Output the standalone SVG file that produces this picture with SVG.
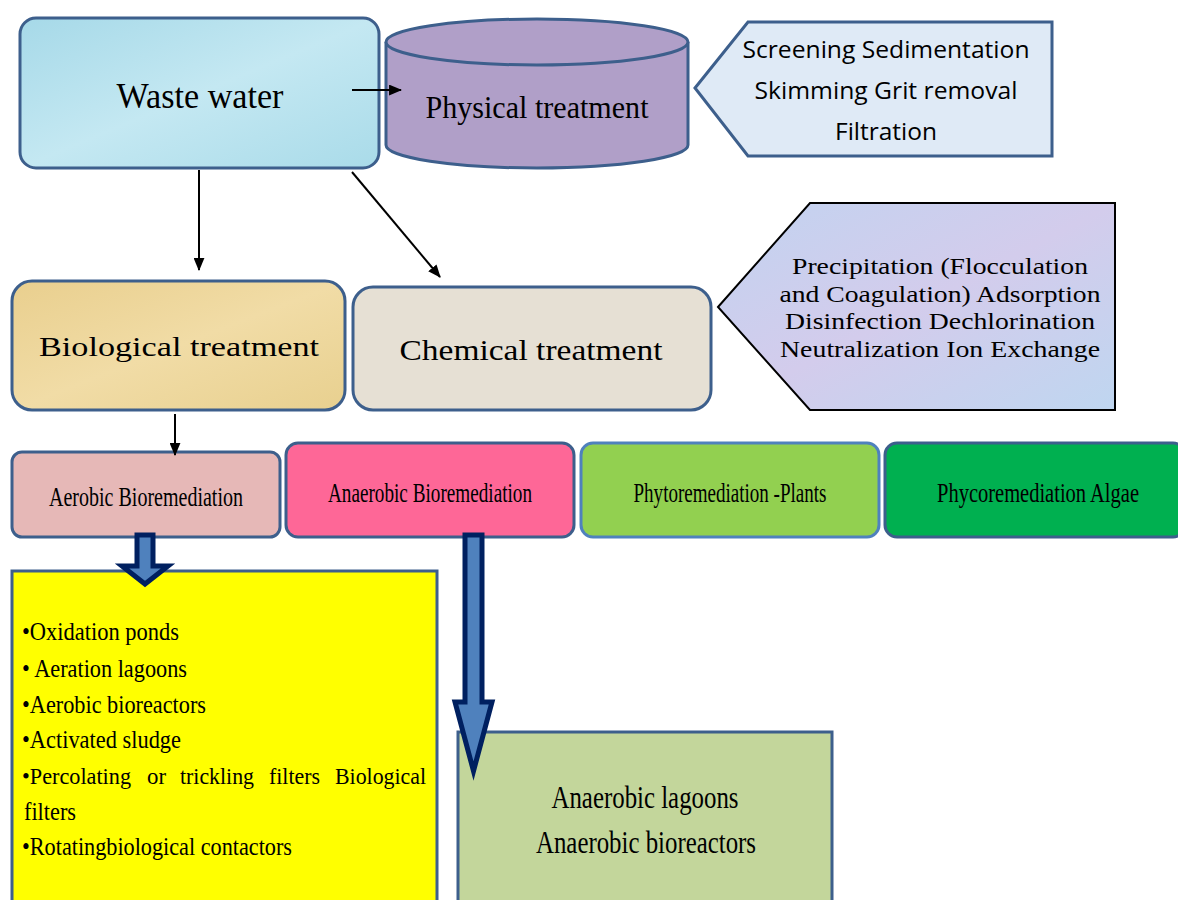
<svg xmlns="http://www.w3.org/2000/svg" width="1178" height="900" viewBox="0 0 1178 900">
<style>
.box{stroke:#3d5f8c;stroke-width:3}
.serif{font-family:"Liberation Serif","Times New Roman",serif;fill:#000}
.sans{font-family:"Open Sans","Noto Sans","Liberation Sans",sans-serif;fill:#000}
.conn{stroke:#000;stroke-width:2;fill:none;marker-end:url(#ah)}
.blk{fill:#4f81bd;stroke:#002060;stroke-width:5;stroke-linejoin:miter}
</style>
<defs>
<marker id="ah" viewBox="0 0 12 10" refX="11" refY="5" markerWidth="13" markerHeight="11" markerUnits="userSpaceOnUse" orient="auto">
<path d="M0,0 L12,5 L0,10 z" fill="#000"/>
</marker>
<linearGradient id="water" x1="0" y1="0" x2="1" y2="1">
<stop offset="0" stop-color="#a6d9e8"/><stop offset="0.5" stop-color="#c4e8f2"/><stop offset="1" stop-color="#a9dbe9"/>
</linearGradient>
<linearGradient id="tan" x1="0" y1="0" x2="1" y2="1">
<stop offset="0" stop-color="#e9cf8e"/><stop offset="0.5" stop-color="#f1dca6"/><stop offset="1" stop-color="#e8d08f"/>
</linearGradient>
<linearGradient id="lav" x1="0" y1="0" x2="1" y2="1">
<stop offset="0" stop-color="#c2d3f0"/><stop offset="0.5" stop-color="#d3ccec"/><stop offset="1" stop-color="#bfd6f0"/>
</linearGradient>
</defs>

<g id="waste-water">
<rect class="box" x="20" y="18" width="359" height="150" rx="16" fill="url(#water)"/>
<text class="serif" x="200" y="108" font-size="35" text-anchor="middle" textLength="167" lengthAdjust="spacingAndGlyphs">Waste water</text>
</g>

<g id="physical-treatment">
<path class="box" d="M386,42 L386,145 A151,23 0 0 0 688,145 L688,42" fill="#b09fc8"/>
<ellipse class="box" cx="537" cy="42" rx="151" ry="23" fill="#b09fc8"/>
<text class="serif" x="537" y="118" font-size="32" text-anchor="middle" textLength="223" lengthAdjust="spacingAndGlyphs">Physical treatment</text>
</g>

<g id="physical-methods">
<path class="box" d="M695,88 L748,22 L1052,22 L1052,156 L748,156 Z" fill="#dfeaf6"/>
<text class="sans" x="886" y="58" font-size="24" text-anchor="middle" textLength="287" lengthAdjust="spacingAndGlyphs">Screening Sedimentation</text>
<text class="sans" x="886" y="99" font-size="24" text-anchor="middle" textLength="263" lengthAdjust="spacingAndGlyphs">Skimming Grit removal</text>
<text class="sans" x="886" y="140" font-size="24" text-anchor="middle" textLength="102" lengthAdjust="spacingAndGlyphs">Filtration</text>
</g>

<g id="biological-treatment">
<rect class="box" x="12" y="281" width="333" height="129" rx="20" fill="url(#tan)"/>
<text class="serif" x="179" y="356" font-size="28" text-anchor="middle" textLength="280" lengthAdjust="spacingAndGlyphs">Biological treatment</text>
</g>

<g id="chemical-treatment">
<rect class="box" x="353" y="287" width="358" height="123" rx="20" fill="#e6e0d4"/>
<text class="serif" x="531" y="360" font-size="30" text-anchor="middle" textLength="263" lengthAdjust="spacingAndGlyphs">Chemical treatment</text>
</g>

<g id="chemical-methods">
<path d="M718,307 L810,203 L1115,203 L1115,410 L810,410 Z" fill="url(#lav)" stroke="#000" stroke-width="2"/>
<text class="serif" x="940" y="274" font-size="23" text-anchor="middle" textLength="296" lengthAdjust="spacingAndGlyphs">Precipitation (Flocculation</text>
<text class="serif" x="940" y="302" font-size="23" text-anchor="middle" textLength="321" lengthAdjust="spacingAndGlyphs">and Coagulation) Adsorption</text>
<text class="serif" x="940" y="329" font-size="23" text-anchor="middle" textLength="310" lengthAdjust="spacingAndGlyphs">Disinfection Dechlorination</text>
<text class="serif" x="940" y="357" font-size="23" text-anchor="middle" textLength="320" lengthAdjust="spacingAndGlyphs">Neutralization Ion Exchange</text>
</g>

<g id="aerobic">
<rect class="box" x="12" y="452" width="268" height="85" rx="10" fill="#e6b8b7"/>
<text class="serif" x="146" y="506" font-size="27" text-anchor="middle" textLength="194" lengthAdjust="spacingAndGlyphs">Aerobic Bioremediation</text>
</g>

<g id="anaerobic">
<rect class="box" x="286" y="443" width="288" height="94" rx="12" fill="#fe6797"/>
<text class="serif" x="430" y="502" font-size="27" text-anchor="middle" textLength="204" lengthAdjust="spacingAndGlyphs" fill="#1a1a3a">Anaerobic Bioremediation</text>
</g>

<g id="phytoremediation">
<rect x="581" y="443" width="298" height="94" rx="12" fill="#92d050" stroke="#4f81bd" stroke-width="3"/>
<text class="serif" x="730" y="502" font-size="27" text-anchor="middle" textLength="193" lengthAdjust="spacingAndGlyphs">Phytoremediation -Plants</text>
</g>

<g id="phycoremediation">
<rect class="box" x="885" y="443" width="300" height="94" rx="12" fill="#00b050"/>
<text class="serif" x="1038" y="502" font-size="27" text-anchor="middle" textLength="202" lengthAdjust="spacingAndGlyphs">Phycoremediation Algae</text>
</g>

<g id="aerobic-methods">
<rect class="box" x="12" y="571" width="425" height="340" fill="#ffff00"/>
<text class="serif" font-size="26" x="22" y="640" textLength="157" lengthAdjust="spacingAndGlyphs">•Oxidation ponds</text>
<text class="serif" font-size="26" x="22" y="677" textLength="165" lengthAdjust="spacingAndGlyphs">• Aeration lagoons</text>
<text class="serif" font-size="26" x="22" y="713" textLength="184" lengthAdjust="spacingAndGlyphs">•Aerobic bioreactors</text>
<text class="serif" font-size="26" x="22" y="748" textLength="159" lengthAdjust="spacingAndGlyphs">•Activated sludge</text>
<text class="serif" font-size="24" y="784"><tspan x="22" textLength="109" lengthAdjust="spacingAndGlyphs">•Percolating</tspan><tspan x="147" textLength="19" lengthAdjust="spacingAndGlyphs">or</tspan><tspan x="180" textLength="74" lengthAdjust="spacingAndGlyphs">trickling</tspan><tspan x="269" textLength="51" lengthAdjust="spacingAndGlyphs">filters</tspan><tspan x="335" textLength="91" lengthAdjust="spacingAndGlyphs">Biological</tspan></text>
<text class="serif" font-size="26" x="24" y="820" textLength="52" lengthAdjust="spacingAndGlyphs">filters</text>
<text class="serif" font-size="26" x="22" y="855" textLength="270" lengthAdjust="spacingAndGlyphs">•Rotatingbiological contactors</text>
</g>

<g id="anaerobic-methods">
<rect class="box" x="458" y="732" width="374" height="180" fill="#c3d69b"/>
<text class="serif" x="645" y="808" font-size="32" text-anchor="middle" textLength="187" lengthAdjust="spacingAndGlyphs">Anaerobic lagoons</text>
<text class="serif" x="646" y="853" font-size="32" text-anchor="middle" textLength="220" lengthAdjust="spacingAndGlyphs">Anaerobic bioreactors</text>
</g>

<g id="connectors">
<line class="conn" x1="352" y1="90" x2="401" y2="90"/>
<line class="conn" x1="199" y1="170" x2="199" y2="270"/>
<line class="conn" x1="352" y1="172" x2="440" y2="277"/>
<line class="conn" x1="175" y1="414" x2="175" y2="455"/>
<path class="blk" d="M137,535 L153,535 L153,566 L168,566 L145,584 L122,566 L137,566 Z"/>
<path class="blk" d="M465,535 L482,535 L482,702 L492,702 L473.5,771 L455,702 L465,702 Z"/>
</g>
</svg>
